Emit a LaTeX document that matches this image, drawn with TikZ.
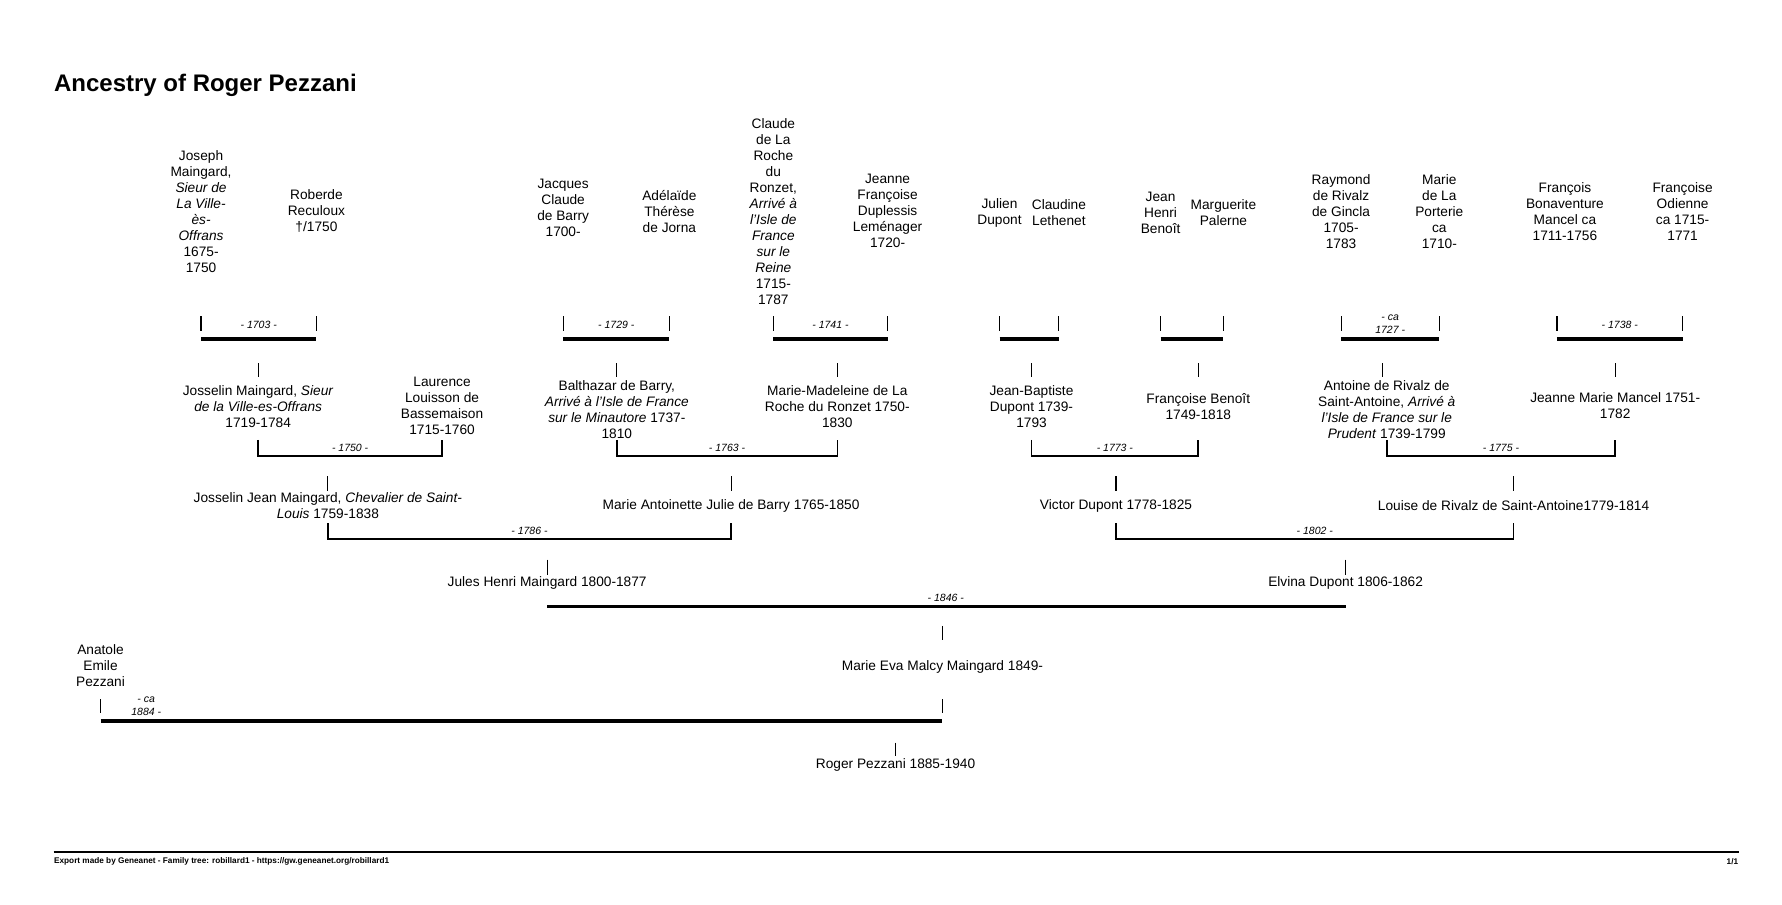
\documentclass[tikz,border=0pt]{standalone}
\usepackage{fontspec}
\setmainfont{Liberation Sans}
\begin{document}
\begin{tikzpicture}[x=0.5pt,y=-0.5pt,
  person/.style={font=\fontsize{6}{7}\selectfont,align=center,inner sep=0pt},
  date/.style={font=\fontsize{4.6}{5.5}\selectfont\itshape,align=center,inner sep=0pt},
  tick/.style={line width=0.5pt},
  bar/.style={line width=1.6pt},
  link/.style={line width=0.7pt}]
\useasboundingbox (0,0) rectangle (1560,791.4);
%Titol
\node[anchor=west,font=\fontsize{10.5}{12}\selectfont\bfseries,inner sep=0pt] (title) at (47,75) {Ancestry of Roger Pezzani};
%Rebesavis
\node[person] (joseph) at (176,185) {Joseph\\Maingard,\\\textit{Sieur de}\\\textit{La Ville-}\\\textit{ès-}\\\textit{Offrans}\\1675-\\1750};
\node[person] (roberde) at (277,185) {Roberde\\Reculoux\\†/1750};
\node[person] (jacques) at (493,182) {Jacques\\Claude\\de Barry\\1700-};
\node[person] (adelaide) at (586,185) {Adélaïde\\Thérèse\\de Jorna};
\node[person] (claude) at (677,185) {Claude\\de La\\Roche\\du\\Ronzet,\\\textit{Arrivé à}\\\textit{l'Isle de}\\\textit{France}\\\textit{sur le}\\\textit{Reine}\\1715-\\1787};
\node[person] (jeanne) at (777,185) {Jeanne\\Françoise\\Duplessis\\Leménager\\1720-};
\node[person] (julien) at (875,186) {Julien\\Dupont};
\node[person] (claudine) at (927,186) {Claudine\\Lethenet};
\node[person] (jean) at (1016,186) {Jean\\Henri\\Benoît};
\node[person] (marguerite) at (1071,186) {Marguerite\\Palerne};
\node[person] (raymond) at (1174,185) {Raymond\\de Rivalz\\de Gincla\\1705-\\1783};
\node[person] (marie) at (1260,185) {Marie\\de La\\Porterie\\ca\\1710-};
\node[person] (francois) at (1370,185) {François\\Bonaventure\\Mancel ca\\1711-1756};
\node[person] (odienne) at (1473,185) {Françoise\\Odienne\\ca 1715-\\1771};
%Parelles de dalt
\foreach \a/\b/\c/\d in {176/277/226/{-~1703~-},493/586/540/{-~1729~-},677/777/733/{-~1741~-},
    875/927/903/{},1016/1071/1049/{},1174/1260/1210/{-~ca\\1727~-},1363/1473/1414/{-~1738~-}}{
  \coordinate (l) at (\a,277);
  \coordinate (r) at (\b,277);
  \coordinate (k) at (\c,318);
  \draw[tick] (l) -- ++(0,13);
  \draw[tick] (r) -- ++(0,13);
  \draw[bar] ([yshift=-10pt]l) -- ([yshift=-10pt]r);
  \node[date] (d) at ({(\a+\b)/2},284) {\d};
  \draw[tick] (k) -- ++(0,12);
}
%Besavis
\node[person] (josselin) at (226,356) {Josselin Maingard, \textit{Sieur}\\\textit{de la Ville-es-Offrans}\\1719-1784};
\node[person] (laurence) at (387,355) {Laurence\\Louisson de\\Bassemaison\\1715-1760};
\node[person] (balthazar) at (540,359) {Balthazar de Barry,\\\textit{Arrivé à l'Isle de France}\\\textit{sur le Minautore} 1737-\\1810};
\node[person] (madeleine) at (733,356) {Marie-Madeleine de La\\Roche du Ronzet 1750-\\1830};
\node[person] (baptiste) at (903,356) {Jean-Baptiste\\Dupont 1739-\\1793};
\node[person] (fbenoit) at (1049,356) {Françoise Benoît\\1749-1818};
\node[person] (antoine) at (1214,359) {Antoine de Rivalz de\\Saint-Antoine, \textit{Arrivé à}\\\textit{l'Isle de France sur le}\\\textit{Prudent} 1739-1799};
\node[person] (mancel) at (1414,355) {Jeanne Marie Mancel 1751-\\1782};
%Avis
\node[person] (jjean) at (287,443) {Josselin Jean Maingard, \textit{Chevalier de Saint-}\\\textit{Louis} 1759-1838};
\node[person] (antoinette) at (640,443) {Marie Antoinette Julie de Barry 1765-1850};
\node[person] (victor) at (977,443) {Victor Dupont 1778-1825};
\node[person] (louise) at (1325,443) {Louise de Rivalz de Saint-Antoine1779-1814};
%Parelles del mig
\foreach \a/\b/\c/\d/\y in {226/387/287/1750/385,540/733/640/1763/385,903/1049/977/1773/385,1214/1414/1325/1775/385,
    287/640/479/1786/458,977/1325/1178/1802/458}{
  \coordinate (l) at (\a,\y);
  \coordinate (r) at (\b,\y);
  \coordinate (k) at (\c,\y+32);
  \draw[link] (l) -- ++(0,14) -| (r);
  \node[date] (d) at ({(\a+\b)/2},\y+7) {-~\d~-};
  \draw[tick] (k) -- ++(0,13);
}
%Pares
\node[person] (jules) at (479,510) {Jules Henri Maingard 1800-1877};
\node[person] (elvina) at (1178,510) {Elvina Dupont 1806-1862};
\draw[bar] (jules.center |- 0,531) -- (elvina.center |- 0,531);
\node[date] (d1846) at (828,523) {-~1846~-};
\coordinate (k) at (825,548);
\draw[tick] (k) -- ++(0,12);
\node[person] (eva) at (825,584) {Marie Eva Malcy Maingard 1849-};
\node[person] (anatole) at (88,583) {Anatole\\Emile\\Pezzani};
\coordinate (pa) at (88,612);
\coordinate (pe) at (825,612);
\draw[tick] (pa) -- ++(0,12);
\draw[tick] (pe) -- ++(0,12);
\draw[bar] ([yshift=-9.5pt]pa) -- ([yshift=-9.5pt]pe);
\node[date] (d1884) at (128,618) {-~ca\\1884~-};
\coordinate (k) at (784,650);
\draw[tick] (k) -- ++(0,12);
%Fill
\node[person] (roger) at (784,670) {Roger Pezzani 1885-1940};
%Peu
\draw[line width=0.6pt] (47,746) -- (1522,746);
\node[anchor=west,inner sep=0pt,font=\fontsize{3.6}{4}\selectfont\bfseries] (foot) at (47,754) {Export made by Geneanet - Family tree: robillard1 - https://gw.geneanet.org/robillard1};
\node[anchor=east,inner sep=0pt,font=\fontsize{3.6}{4}\selectfont\bfseries] (page) at (1522,754) {1/1};
\end{tikzpicture}
\end{document}
